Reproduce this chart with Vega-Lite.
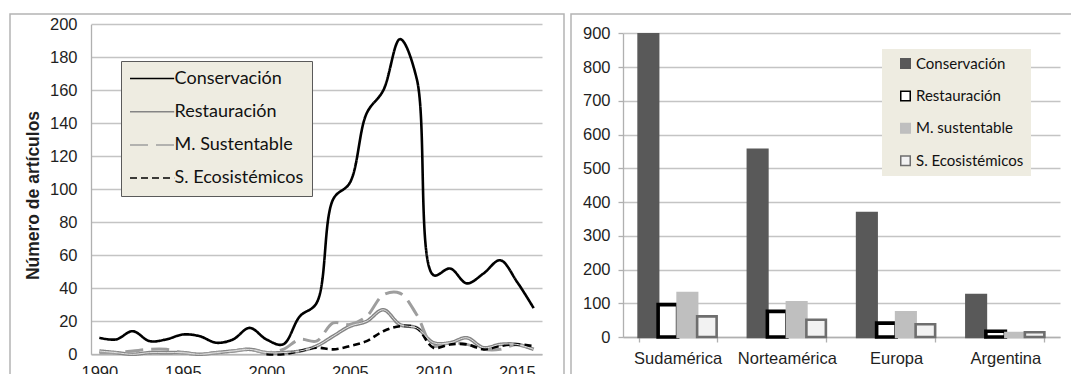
{
  "$schema": "https://vega.github.io/schema/vega-lite/v6.json",
  "background": "#ffffff",
  "padding": {"left": 9, "top": 13, "right": 0, "bottom": 0},
  "spacing": 5,
  "config": {
    "font": "Liberation Sans",
    "view": {"stroke": "#b4b4b4", "strokeWidth": 1.5},
    "axis": {
      "labelFont": "Liberation Sans",
      "labelFontSize": 16.5,
      "labelColor": "#1f1f1f",
      "labelOverlap": false,
      "gridColor": "#c4c4c4",
      "gridWidth": 1.3,
      "domainColor": "#b0b0b0",
      "domainWidth": 1.3,
      "tickColor": "#b0b0b0",
      "tickWidth": 1.3
    },
    "legend": {"labelFont": "Lato", "labelColor": "#111111"}
  },
  "datasets": {
    "articulos_anio": [
      {"anio": 1990, "serie": "Conservación", "valor": 10},
      {"anio": 1991, "serie": "Conservación", "valor": 9},
      {"anio": 1992, "serie": "Conservación", "valor": 14},
      {"anio": 1993, "serie": "Conservación", "valor": 8},
      {"anio": 1994, "serie": "Conservación", "valor": 9},
      {"anio": 1995, "serie": "Conservación", "valor": 12},
      {"anio": 1996, "serie": "Conservación", "valor": 11},
      {"anio": 1997, "serie": "Conservación", "valor": 7},
      {"anio": 1998, "serie": "Conservación", "valor": 9},
      {"anio": 1999, "serie": "Conservación", "valor": 16},
      {"anio": 2000, "serie": "Conservación", "valor": 9},
      {"anio": 2001, "serie": "Conservación", "valor": 6},
      {"anio": 2002, "serie": "Conservación", "valor": 23},
      {"anio": 2003, "serie": "Conservación", "valor": 31},
      {"anio": 2004, "serie": "Conservación", "valor": 94},
      {"anio": 2005, "serie": "Conservación", "valor": 104},
      {"anio": 2006, "serie": "Conservación", "valor": 146},
      {"anio": 2007, "serie": "Conservación", "valor": 160},
      {"anio": 2008, "serie": "Conservación", "valor": 191},
      {"anio": 2009, "serie": "Conservación", "valor": 167},
      {"anio": 2010, "serie": "Conservación", "valor": 48},
      {"anio": 2011, "serie": "Conservación", "valor": 52},
      {"anio": 2012, "serie": "Conservación", "valor": 43},
      {"anio": 2013, "serie": "Conservación", "valor": 49},
      {"anio": 2014, "serie": "Conservación", "valor": 57},
      {"anio": 2015, "serie": "Conservación", "valor": 44},
      {"anio": 2016, "serie": "Conservación", "valor": 28},

      {"anio": 1990, "serie": "Restauración", "valor": 2},
      {"anio": 1991, "serie": "Restauración", "valor": 1},
      {"anio": 1992, "serie": "Restauración", "valor": 0},
      {"anio": 1993, "serie": "Restauración", "valor": 1},
      {"anio": 1994, "serie": "Restauración", "valor": 1},
      {"anio": 1995, "serie": "Restauración", "valor": 1},
      {"anio": 1996, "serie": "Restauración", "valor": 0},
      {"anio": 1997, "serie": "Restauración", "valor": 1},
      {"anio": 1998, "serie": "Restauración", "valor": 2},
      {"anio": 1999, "serie": "Restauración", "valor": 3},
      {"anio": 2000, "serie": "Restauración", "valor": 1},
      {"anio": 2001, "serie": "Restauración", "valor": 1},
      {"anio": 2002, "serie": "Restauración", "valor": 2},
      {"anio": 2003, "serie": "Restauración", "valor": 5},
      {"anio": 2004, "serie": "Restauración", "valor": 11},
      {"anio": 2005, "serie": "Restauración", "valor": 17},
      {"anio": 2006, "serie": "Restauración", "valor": 20},
      {"anio": 2007, "serie": "Restauración", "valor": 27},
      {"anio": 2008, "serie": "Restauración", "valor": 18},
      {"anio": 2009, "serie": "Restauración", "valor": 16},
      {"anio": 2010, "serie": "Restauración", "valor": 7},
      {"anio": 2011, "serie": "Restauración", "valor": 7},
      {"anio": 2012, "serie": "Restauración", "valor": 10},
      {"anio": 2013, "serie": "Restauración", "valor": 4},
      {"anio": 2014, "serie": "Restauración", "valor": 6},
      {"anio": 2015, "serie": "Restauración", "valor": 6},
      {"anio": 2016, "serie": "Restauración", "valor": 3},

      {"anio": 1990, "serie": "M. Sustentable", "valor": 1},
      {"anio": 1991, "serie": "M. Sustentable", "valor": 1},
      {"anio": 1992, "serie": "M. Sustentable", "valor": 2},
      {"anio": 1993, "serie": "M. Sustentable", "valor": 3},
      {"anio": 1994, "serie": "M. Sustentable", "valor": 3},
      {"anio": 1995, "serie": "M. Sustentable", "valor": 1},
      {"anio": 1996, "serie": "M. Sustentable", "valor": 0},
      {"anio": 1997, "serie": "M. Sustentable", "valor": 1},
      {"anio": 1998, "serie": "M. Sustentable", "valor": 2},
      {"anio": 1999, "serie": "M. Sustentable", "valor": 3},
      {"anio": 2000, "serie": "M. Sustentable", "valor": 1},
      {"anio": 2001, "serie": "M. Sustentable", "valor": 3},
      {"anio": 2002, "serie": "M. Sustentable", "valor": 9},
      {"anio": 2003, "serie": "M. Sustentable", "valor": 8},
      {"anio": 2004, "serie": "M. Sustentable", "valor": 19},
      {"anio": 2005, "serie": "M. Sustentable", "valor": 18},
      {"anio": 2006, "serie": "M. Sustentable", "valor": 23},
      {"anio": 2007, "serie": "M. Sustentable", "valor": 36},
      {"anio": 2008, "serie": "M. Sustentable", "valor": 37},
      {"anio": 2009, "serie": "M. Sustentable", "valor": 24},
      {"anio": 2010, "serie": "M. Sustentable", "valor": 5},
      {"anio": 2011, "serie": "M. Sustentable", "valor": 7},
      {"anio": 2012, "serie": "M. Sustentable", "valor": 6},
      {"anio": 2013, "serie": "M. Sustentable", "valor": 3},
      {"anio": 2014, "serie": "M. Sustentable", "valor": 3},
      {"anio": 2015, "serie": "M. Sustentable", "valor": 6},
      {"anio": 2016, "serie": "M. Sustentable", "valor": 3},

      {"anio": 2000, "serie": "S. Ecosistémicos", "valor": 0},
      {"anio": 2001, "serie": "S. Ecosistémicos", "valor": 0},
      {"anio": 2002, "serie": "S. Ecosistémicos", "valor": 2},
      {"anio": 2003, "serie": "S. Ecosistémicos", "valor": 4},
      {"anio": 2004, "serie": "S. Ecosistémicos", "valor": 3},
      {"anio": 2005, "serie": "S. Ecosistémicos", "valor": 5},
      {"anio": 2006, "serie": "S. Ecosistémicos", "valor": 8},
      {"anio": 2007, "serie": "S. Ecosistémicos", "valor": 14},
      {"anio": 2008, "serie": "S. Ecosistémicos", "valor": 17},
      {"anio": 2009, "serie": "S. Ecosistémicos", "valor": 16},
      {"anio": 2010, "serie": "S. Ecosistémicos", "valor": 4},
      {"anio": 2011, "serie": "S. Ecosistémicos", "valor": 6},
      {"anio": 2012, "serie": "S. Ecosistémicos", "valor": 6},
      {"anio": 2013, "serie": "S. Ecosistémicos", "valor": 3},
      {"anio": 2014, "serie": "S. Ecosistémicos", "valor": 5},
      {"anio": 2015, "serie": "S. Ecosistémicos", "valor": 6},
      {"anio": 2016, "serie": "S. Ecosistémicos", "valor": 5}
    ],
    "articulos_region": [
      {"region": "Sudamérica", "serie": "Conservación", "valor": 897},
      {"region": "Sudamérica", "serie": "Restauración", "valor": 96},
      {"region": "Sudamérica", "serie": "M. sustentable", "valor": 130},
      {"region": "Sudamérica", "serie": "S. Ecosistémicos", "valor": 61},
      {"region": "Norteamérica", "serie": "Conservación", "valor": 555},
      {"region": "Norteamérica", "serie": "Restauración", "valor": 76},
      {"region": "Norteamérica", "serie": "M. sustentable", "valor": 103},
      {"region": "Norteamérica", "serie": "S. Ecosistémicos", "valor": 51},
      {"region": "Europa", "serie": "Conservación", "valor": 367},
      {"region": "Europa", "serie": "Restauración", "valor": 41},
      {"region": "Europa", "serie": "M. sustentable", "valor": 73},
      {"region": "Europa", "serie": "S. Ecosistémicos", "valor": 38},
      {"region": "Argentina", "serie": "Conservación", "valor": 124},
      {"region": "Argentina", "serie": "Restauración", "valor": 17},
      {"region": "Argentina", "serie": "M. sustentable", "valor": 12},
      {"region": "Argentina", "serie": "S. Ecosistémicos", "valor": 14}
    ]
  },
  "hconcat": [
    {
      "width": 554,
      "height": 372,
      "data": {"name": "articulos_anio"},
      "encoding": {
        "x": {
          "field": "anio",
          "type": "quantitative",
          "scale": {"domain": [1989.5, 2016.5], "range": [81, 532], "nice": false, "zero": false},
          "axis": {
            "title": null,
            "values": [1990, 1995, 2000, 2005, 2010, 2015],
            "format": "d",
            "offset": -31.7,
            "ticks": false,
            "labelPadding": 10,
            "labelFlush": false,
            "labelOverlap": false,
            "grid": false
          }
        },
        "y": {
          "field": "valor",
          "type": "quantitative",
          "scale": {"domain": [0, 200], "range": [340.3, 10.3], "nice": false},
          "axis": {
            "title": "Número de artículos",
            "titleFont": "Liberation Sans",
            "titleFontSize": 17.5,
            "titleFontWeight": "bold",
            "titleColor": "#1f1f1f",
            "titleX": -58,
            "titleY": 181,
            "titleBaseline": "middle",
            "values": [0, 20, 40, 60, 80, 100, 120, 140, 160, 180, 200],
            "tickCount": 11,
            "offset": -81,
            "ticks": false,
            "labelPadding": 14,
            "labelOverlap": false,
            "labelSeparation": 0,
            "grid": true
          }
        }
      },
      "layer": [
        {
          "mark": {"type": "line", "interpolate": "catmull-rom", "strokeCap": "butt", "strokeJoin": "round"},
          "encoding": {
            "color": {
              "field": "serie",
              "type": "nominal",
              "scale": {
                "domain": ["Conservación", "Restauración", "M. Sustentable", "S. Ecosistémicos"],
                "range": ["#000000", "#858585", "#9e9e9e", "#000000"]
              },
              "legend": {
                "title": null,
                "orient": "none",
                "legendX": 111,
                "legendY": 47,
                "fillColor": "#eeece1",
                "strokeColor": "#5a5a5a",
                "padding": 8,
                "symbolType": "M-2.6,0H2.6",
                "symbolSize": 289,
                "symbolOffset": 13.6,
                "labelFontSize": 18,
                "labelOffset": 13,
                "rowPadding": 14.2
              }
            },
            "strokeDash": {
              "field": "serie",
              "type": "nominal",
              "scale": {
                "domain": ["Conservación", "Restauración", "M. Sustentable", "S. Ecosistémicos"],
                "range": [[1, 0], [1, 0], [18, 8], [7, 4]]
              },
              "legend": {"title": null}
            },
            "strokeWidth": {
              "field": "serie",
              "type": "nominal",
              "scale": {
                "type": "ordinal",
                "domain": ["Conservación", "Restauración", "M. Sustentable", "S. Ecosistémicos"],
                "range": [2.6, 3.6, 3, 2.6]
              },
              "legend": {"title": null}
            }
          }
        },
        {
          "transform": [{"filter": "datum.serie === 'Restauración'"}],
          "mark": {"type": "line", "interpolate": "catmull-rom", "color": "#e2e2e2", "strokeWidth": 1}
        }
      ]
    },
    {
      "width": 506,
      "height": 372,
      "data": {"name": "articulos_region"},
      "mark": {"type": "bar"},
      "encoding": {
        "x": {
          "field": "region",
          "type": "nominal",
          "sort": ["Sudamérica", "Norteamérica", "Europa", "Argentina"],
          "scale": {"range": [52, 489], "paddingInner": 0.286, "paddingOuter": 0.143},
          "axis": {
            "title": null,
            "labelAngle": 0,
            "offset": -49,
            "tickBand": "extent",
            "ticks": true,
            "tickSize": 5,
            "labelPadding": 8.5,
            "grid": false
          }
        },
        "xOffset": {
          "field": "serie",
          "type": "nominal",
          "sort": ["Conservación", "Restauración", "M. sustentable", "S. Ecosistémicos"],
          "scale": {"paddingInner": 0, "paddingOuter": 0}
        },
        "y": {
          "field": "valor",
          "type": "quantitative",
          "scale": {"domain": [0, 900], "range": [323, 19.3], "nice": false},
          "axis": {
            "title": null,
            "values": [0, 100, 200, 300, 400, 500, 600, 700, 800, 900],
            "offset": -52,
            "ticks": true,
            "tickSize": 5,
            "labelPadding": 8,
            "grid": true
          }
        },
        "fill": {
          "field": "serie",
          "type": "nominal",
          "scale": {
            "domain": ["Conservación", "Restauración", "M. sustentable", "S. Ecosistémicos"],
            "range": ["#595959", "#ffffff", "#bfbfbf", "#f2f2f2"]
          },
          "legend": {
            "title": null,
            "orient": "none",
            "legendX": 872,
            "legendY": 35,
            "fillColor": "#eeece1",
            "padding": 7,
            "symbolType": "square",
            "symbolSize": 90,
            "symbolOffset": 9,
            "labelFontSize": 15,
            "labelOffset": 3,
            "rowPadding": 15.4,
            "labelExpr": "datum.label + '\u00a0'"
          }
        },
        "stroke": {
          "field": "serie",
          "type": "nominal",
          "scale": {
            "domain": ["Conservación", "Restauración", "M. sustentable", "S. Ecosistémicos"],
            "range": ["#595959", "#000000", "#bfbfbf", "#6e6e6e"]
          },
          "legend": {"title": null}
        },
        "strokeWidth": {
          "field": "serie",
          "type": "nominal",
          "scale": {
            "type": "ordinal",
            "domain": ["Conservación", "Restauración", "M. sustentable", "S. Ecosistémicos"],
            "range": [0.5, 2.2, 0.5, 2.6]
          },
          "legend": {"title": null}
        }
      }
    }
  ]
}
